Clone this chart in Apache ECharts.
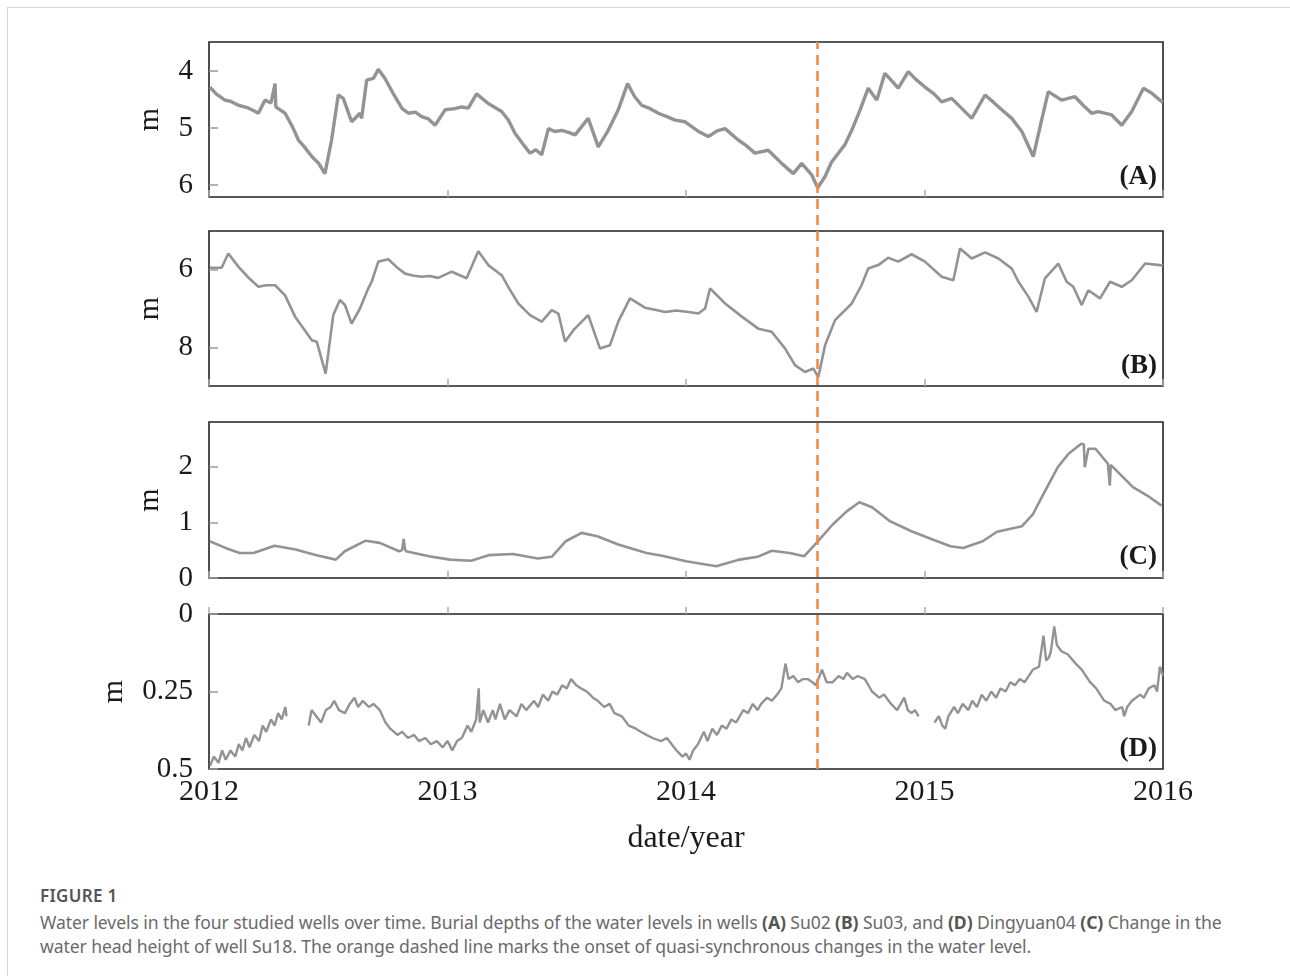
<!DOCTYPE html>
<html>
<head>
<meta charset="utf-8">
<script src="https://cdn.jsdelivr.net/npm/echarts/dist/echarts.min.js"></script>
<style>
  html, body { margin: 0; padding: 0; background: #fff; }
  body { width: 1290px; height: 976px; position: relative; overflow: hidden; }
  #frame { position: absolute; left: 7px; top: 7px; right: 0; bottom: 0;
           border-left: 1px solid #d4d4d4; border-top: 1px solid #d4d4d4; }
  #chart { position: absolute; left: 0; top: 0; width: 1290px; height: 870px; }
  #caption { position: absolute; left: 40px; top: 884px; width: 1240px;
             font-family: "Noto Sans", "Open Sans", sans-serif; color: #6a6a6a; }
  #caption .fig { font-size: 17px; font-weight: 600; color: #555; letter-spacing: 0.3px; margin-bottom: 3px; }
  #caption .txt { font-size: 17.6px; line-height: 24px; letter-spacing: -0.1px; white-space: nowrap; }
  #caption b { color: #555; }
</style>
</head>
<body>
<div id="frame"></div>
<div id="chart"></div>
<div id="caption">
  <div class="fig">FIGURE 1</div>
  <div class="txt">Water levels in the four studied wells over time. Burial depths of the water levels in wells <b>(A)</b> Su02 <b>(B)</b> Su03, and <b>(D)</b> Dingyuan04 <b>(C)</b> Change in the<br>water head height of well Su18. The orange dashed line marks the onset of quasi-synchronous changes in the water level.</div>
</div>
<script>
// burial depth of well Su02 (m), [year, depth]
const su02 = [
  [2012.004, 4.28], [2012.03, 4.40], [2012.067, 4.51], [2012.09, 4.53], [2012.123, 4.60], [2012.16, 4.64],
  [2012.19, 4.70], [2012.207, 4.74], [2012.235, 4.51], [2012.26, 4.56], [2012.277, 4.22], [2012.28, 4.63],
  [2012.319, 4.74], [2012.35, 4.98], [2012.375, 5.21], [2012.40, 5.33], [2012.431, 5.50], [2012.46, 5.62],
  [2012.486, 5.80], [2012.514, 5.21], [2012.542, 4.42], [2012.563, 4.48], [2012.598, 4.89], [2012.633, 4.74],
  [2012.640, 4.83], [2012.661, 4.16], [2012.689, 4.13], [2012.710, 3.97], [2012.738, 4.13], [2012.780, 4.45],
  [2012.81, 4.66], [2012.836, 4.74], [2012.865, 4.72], [2012.892, 4.80], [2012.92, 4.84], [2012.948, 4.95],
  [2012.990, 4.68], [2013.03, 4.66], [2013.060, 4.63], [2013.087, 4.65], [2013.122, 4.40], [2013.171, 4.57],
  [2013.227, 4.71], [2013.255, 4.86], [2013.283, 5.09], [2013.32, 5.30], [2013.346, 5.44], [2013.37, 5.38],
  [2013.395, 5.47], [2013.423, 5.01], [2013.45, 5.06], [2013.479, 5.04], [2013.51, 5.08], [2013.535, 5.12],
  [2013.590, 4.83], [2013.632, 5.33], [2013.674, 5.04], [2013.716, 4.68], [2013.755, 4.22], [2013.785, 4.45],
  [2013.814, 4.60], [2013.85, 4.66], [2013.884, 4.74], [2013.92, 4.80], [2013.954, 4.86], [2013.996, 4.89],
  [2014.052, 5.06], [2014.094, 5.15], [2014.13, 5.05], [2014.164, 5.01], [2014.219, 5.21], [2014.25, 5.30],
  [2014.289, 5.44], [2014.345, 5.39], [2014.401, 5.62], [2014.450, 5.80], [2014.485, 5.62], [2014.527, 5.82],
  [2014.552, 6.05], [2014.583, 5.85], [2014.61, 5.60], [2014.639, 5.44], [2014.665, 5.30], [2014.695, 5.04],
  [2014.730, 4.68], [2014.764, 4.30], [2014.800, 4.51], [2014.834, 4.04], [2014.865, 4.18], [2014.890, 4.30],
  [2014.932, 4.01], [2014.965, 4.15], [2015.002, 4.28], [2015.04, 4.40], [2015.072, 4.54], [2015.114, 4.48],
  [2015.155, 4.65], [2015.198, 4.83], [2015.254, 4.42], [2015.29, 4.55], [2015.324, 4.68], [2015.366, 4.83],
  [2015.408, 5.06], [2015.456, 5.50], [2015.491, 4.86], [2015.519, 4.36], [2015.575, 4.51], [2015.631, 4.45],
  [2015.665, 4.60], [2015.701, 4.74], [2015.729, 4.71], [2015.785, 4.77], [2015.827, 4.95], [2015.869, 4.71],
  [2015.918, 4.30], [2015.953, 4.39], [2015.987, 4.51], [2016.00, 4.55]
];
// burial depth of well Su03 (m)
const su03 = [
  [2012.004, 5.95], [2012.053, 5.95], [2012.081, 5.58], [2012.123, 5.92], [2012.165, 6.20], [2012.207, 6.44],
  [2012.24, 6.40], [2012.277, 6.40], [2012.319, 6.66], [2012.361, 7.21], [2012.40, 7.55], [2012.431, 7.82],
  [2012.452, 7.86], [2012.489, 8.68], [2012.521, 7.17], [2012.549, 6.78], [2012.570, 6.91], [2012.598, 7.39],
  [2012.633, 7.00], [2012.668, 6.48], [2012.682, 6.31], [2012.710, 5.79], [2012.752, 5.73], [2012.785, 5.92],
  [2012.822, 6.10], [2012.855, 6.15], [2012.892, 6.18], [2012.925, 6.16], [2012.961, 6.21], [2013.018, 6.05],
  [2013.080, 6.22], [2013.129, 5.52], [2013.171, 5.88], [2013.227, 6.14], [2013.26, 6.50], [2013.297, 6.87],
  [2013.346, 7.17], [2013.395, 7.34], [2013.437, 7.04], [2013.465, 7.13], [2013.493, 7.86], [2013.528, 7.56],
  [2013.563, 7.34], [2013.590, 7.17], [2013.639, 8.03], [2013.681, 7.95], [2013.716, 7.34], [2013.765, 6.74],
  [2013.828, 6.98], [2013.87, 7.03], [2013.912, 7.09], [2013.96, 7.05], [2014.010, 7.09], [2014.052, 7.13],
  [2014.080, 7.00], [2014.101, 6.48], [2014.164, 6.87], [2014.234, 7.21], [2014.303, 7.52], [2014.359, 7.60],
  [2014.415, 8.03], [2014.457, 8.46], [2014.499, 8.64], [2014.534, 8.55], [2014.555, 8.77], [2014.583, 7.95],
  [2014.625, 7.30], [2014.695, 6.87], [2014.736, 6.40], [2014.764, 5.97], [2014.806, 5.88], [2014.848, 5.69],
  [2014.890, 5.79], [2014.946, 5.60], [2015.002, 5.79], [2015.072, 6.18], [2015.121, 6.27], [2015.149, 5.45],
  [2015.198, 5.71], [2015.254, 5.55], [2015.310, 5.71], [2015.366, 5.97], [2015.394, 6.31], [2015.436, 6.70],
  [2015.470, 7.09], [2015.505, 6.22], [2015.561, 5.84], [2015.596, 6.31], [2015.624, 6.44], [2015.659, 6.91],
  [2015.687, 6.53], [2015.736, 6.74], [2015.778, 6.31], [2015.827, 6.44], [2015.869, 6.27], [2015.925, 5.84],
  [2015.987, 5.88], [2016.00, 5.90]
];
// water head height of well Su18 (m)
const su18 = [
  [2012.003, 0.66], [2012.069, 0.54], [2012.128, 0.45], [2012.187, 0.45], [2012.275, 0.58], [2012.363, 0.51],
  [2012.451, 0.41], [2012.532, 0.33], [2012.569, 0.48], [2012.657, 0.67], [2012.716, 0.63], [2012.797, 0.48],
  [2012.810, 0.50], [2012.816, 0.70], [2012.822, 0.52], [2012.826, 0.48], [2012.922, 0.39], [2013.010, 0.33],
  [2013.099, 0.31], [2013.172, 0.41], [2013.275, 0.43], [2013.378, 0.35], [2013.437, 0.38], [2013.496, 0.66],
  [2013.562, 0.81], [2013.628, 0.75], [2013.716, 0.60], [2013.834, 0.45], [2013.90, 0.40], [2014.000, 0.30],
  [2014.127, 0.21], [2014.225, 0.33], [2014.30, 0.38], [2014.360, 0.49], [2014.435, 0.45], [2014.495, 0.39],
  [2014.547, 0.63], [2014.615, 0.96], [2014.675, 1.20], [2014.727, 1.36], [2014.780, 1.27], [2014.855, 1.02],
  [2014.945, 0.84], [2015.034, 0.69], [2015.109, 0.57], [2015.162, 0.54], [2015.244, 0.66], [2015.304, 0.83],
  [2015.409, 0.93], [2015.454, 1.14], [2015.499, 1.51], [2015.559, 1.99], [2015.604, 2.23], [2015.657, 2.41],
  [2015.668, 2.40], [2015.672, 1.99], [2015.680, 2.00], [2015.687, 2.32], [2015.717, 2.32], [2015.769, 2.05],
  [2015.775, 2.04], [2015.777, 1.66], [2015.781, 2.03], [2015.874, 1.63], [2015.934, 1.48], [2015.994, 1.30]
];
// burial depth of well Dingyuan04 (m), null = missing record
const dy04 = [
  [2012.005, 0.49], [2012.02, 0.46], [2012.04, 0.48], [2012.055, 0.44], [2012.07, 0.47], [2012.09, 0.44],
  [2012.11, 0.46], [2012.125, 0.42], [2012.14, 0.44], [2012.155, 0.40], [2012.17, 0.43], [2012.19, 0.39],
  [2012.21, 0.41], [2012.225, 0.36], [2012.24, 0.38], [2012.26, 0.34], [2012.275, 0.36], [2012.29, 0.32],
  [2012.305, 0.34], [2012.32, 0.30], [2012.325, 0.33], [2012.37, null],
  [2012.418, 0.36], [2012.43, 0.31], [2012.45, 0.33], [2012.47, 0.35], [2012.49, 0.31], [2012.51, 0.30],
  [2012.525, 0.28], [2012.545, 0.31], [2012.57, 0.32], [2012.59, 0.29], [2012.61, 0.27], [2012.625, 0.30],
  [2012.645, 0.28], [2012.67, 0.30], [2012.69, 0.29], [2012.716, 0.31], [2012.74, 0.35], [2012.76, 0.37],
  [2012.79, 0.39], [2012.81, 0.38], [2012.834, 0.40], [2012.86, 0.39], [2012.88, 0.41], [2012.907, 0.40],
  [2012.93, 0.42], [2012.955, 0.41], [2012.98, 0.43], [2013.00, 0.41], [2013.02, 0.44], [2013.04, 0.41],
  [2013.06, 0.40], [2013.084, 0.36], [2013.10, 0.38], [2013.12, 0.34], [2013.131, 0.24], [2013.135, 0.35],
  [2013.15, 0.31], [2013.17, 0.35], [2013.19, 0.31], [2013.201, 0.34], [2013.22, 0.29], [2013.24, 0.34],
  [2013.26, 0.31], [2013.29, 0.33], [2013.31, 0.29], [2013.33, 0.31], [2013.363, 0.28], [2013.38, 0.30],
  [2013.40, 0.26], [2013.422, 0.28], [2013.44, 0.25], [2013.46, 0.26], [2013.481, 0.23], [2013.50, 0.24],
  [2013.518, 0.21], [2013.54, 0.23], [2013.56, 0.24], [2013.584, 0.25], [2013.61, 0.27], [2013.63, 0.28],
  [2013.657, 0.30], [2013.68, 0.29], [2013.70, 0.32], [2013.731, 0.33], [2013.76, 0.36], [2013.79, 0.37],
  [2013.81, 0.38], [2013.834, 0.39], [2013.86, 0.40], [2013.895, 0.41], [2013.92, 0.40], [2013.94, 0.42],
  [2013.96, 0.44], [2013.985, 0.46], [2014.00, 0.45], [2014.015, 0.47], [2014.03, 0.44], [2014.05, 0.42],
  [2014.075, 0.38], [2014.09, 0.41], [2014.11, 0.37], [2014.13, 0.39], [2014.15, 0.36], [2014.17, 0.37],
  [2014.19, 0.34], [2014.21, 0.35], [2014.24, 0.31], [2014.26, 0.32], [2014.28, 0.29], [2014.30, 0.31],
  [2014.315, 0.29], [2014.34, 0.27], [2014.36, 0.28], [2014.382, 0.26], [2014.40, 0.24], [2014.417, 0.16],
  [2014.43, 0.21], [2014.45, 0.20], [2014.47, 0.22], [2014.49, 0.21], [2014.51, 0.21], [2014.53, 0.22],
  [2014.544, 0.23], [2014.56, 0.20], [2014.57, 0.18], [2014.59, 0.22], [2014.615, 0.22], [2014.64, 0.20],
  [2014.66, 0.21], [2014.675, 0.19], [2014.70, 0.21], [2014.72, 0.20], [2014.75, 0.21], [2014.78, 0.25],
  [2014.81, 0.27], [2014.83, 0.26], [2014.86, 0.29], [2014.885, 0.31], [2014.90, 0.29], [2014.915, 0.27],
  [2014.93, 0.31], [2014.945, 0.32], [2014.96, 0.31], [2014.975, 0.33], [2015.01, null],
  [2015.042, 0.35], [2015.06, 0.33], [2015.075, 0.36], [2015.087, 0.37], [2015.10, 0.33], [2015.124, 0.30],
  [2015.14, 0.32], [2015.16, 0.29], [2015.184, 0.31], [2015.20, 0.28], [2015.22, 0.30], [2015.24, 0.26],
  [2015.259, 0.28], [2015.28, 0.25], [2015.30, 0.27], [2015.319, 0.24], [2015.34, 0.25], [2015.36, 0.22],
  [2015.379, 0.23], [2015.40, 0.21], [2015.42, 0.22], [2015.454, 0.18], [2015.48, 0.17], [2015.499, 0.07],
  [2015.51, 0.15], [2015.522, 0.14], [2015.53, 0.12], [2015.544, 0.04], [2015.555, 0.10], [2015.574, 0.12],
  [2015.60, 0.13], [2015.634, 0.16], [2015.66, 0.18], [2015.694, 0.22], [2015.72, 0.24], [2015.754, 0.28],
  [2015.78, 0.29], [2015.80, 0.31], [2015.829, 0.30], [2015.837, 0.33], [2015.85, 0.30], [2015.87, 0.28],
  [2015.904, 0.26], [2015.92, 0.27], [2015.94, 0.24], [2015.964, 0.23], [2015.975, 0.25], [2015.987, 0.17],
  [2016.00, 0.20]
];

const onsetYear = 2014.552;
const panelNames = ['(A)', '(B)', '(C)', '(D)'];
const yTicks = [[4, 5, 6], [6, 8], [0, 1, 2], [0, 0.25, 0.5]];
const yMin = [3.49, 5.0, 0, 0];
const yMax = [6.21, 9.0, 2.8, 0.5];

const serif = '"Liberation Serif", "DejaVu Serif", serif';
const ink = '#1a1a1a';
const gridTops = [42, 231, 422, 614];
const gridHeights = [155, 155, 156, 155];
const lineWidths = [3.4, 2.6, 2.6, 2.4];
const allData = [su02, su03, su18, dy04];

const grids = gridTops.map((t, i) => ({
  left: 209, right: 127, top: t, height: gridHeights[i],
  show: true, borderColor: '#222', borderWidth: 1.6, backgroundColor: 'transparent'
}));
// overlay grid for the onset line spanning all panels
grids.push({ left: 209, right: 127, top: 42, height: 727, show: false });

const xAxes = gridTops.map((t, i) => ({
  gridIndex: i, type: 'value', min: 2012, max: 2016, interval: 1,
  axisLine: { show: false }, splitLine: { show: false },
  axisTick: { show: true, inside: true, length: 7, lineStyle: { color: '#aaa', width: 1.5 } },
  axisLabel: {
    show: i === 3, formatter: v => String(v), fontFamily: serif, fontSize: 30, color: ink,
    margin: 8, showMinLabel: true, showMaxLabel: true
  },
  name: i === 3 ? 'date/year' : '', nameLocation: 'middle', nameGap: 54,
  nameTextStyle: { fontFamily: serif, fontSize: 32, color: ink }
}));
xAxes.push({ gridIndex: 4, type: 'value', min: 2012, max: 2016, show: false });

const yAxes = gridTops.map((t, i) => ({
  gridIndex: i, type: 'value', min: yMin[i], max: yMax[i], inverse: i !== 2,
  axisLine: { show: false }, splitLine: { show: false },
  axisTick: { show: true, inside: true, length: 9, customValues: yTicks[i], lineStyle: { color: '#999', width: 1.5 } },
  axisLabel: { customValues: yTicks[i], fontFamily: serif, fontSize: 29, color: ink, margin: 16 },
  name: 'm', nameLocation: 'middle', nameGap: i === 3 ? 80 : 44,
  nameTextStyle: { fontFamily: serif, fontSize: 30, color: ink }
}));
yAxes.push({ gridIndex: 4, type: 'value', min: 0, max: 1, show: false });

const series = allData.map((d, i) => ({
  type: 'line', xAxisIndex: i, yAxisIndex: i, data: d,
  showSymbol: false, connectNulls: false, silent: true,
  lineStyle: { color: '#939393', width: lineWidths[i] }
}));
series.push({
  type: 'line', xAxisIndex: 4, yAxisIndex: 4, data: [[onsetYear, 0.5]],
  showSymbol: false, lineStyle: { width: 0 }, z: 5,
  markLine: {
    silent: true, symbol: 'none', label: { show: false },
    lineStyle: { color: '#F58A45', width: 2.6, type: [10, 6] },
    data: [{ xAxis: onsetYear }]
  }
});

const labels = panelNames.map((txt, i) => ({
  type: 'text', right: 133, top: gridTops[i] + 122,
  style: { text: txt, font: 'bold 27px ' + serif, fill: ink }
}));

const chart = echarts.init(document.getElementById('chart'));
chart.setOption({
  animation: false,
  grid: grids,
  xAxis: xAxes,
  yAxis: yAxes,
  series: series,
  graphic: labels
});
</script>
</body>
</html>
